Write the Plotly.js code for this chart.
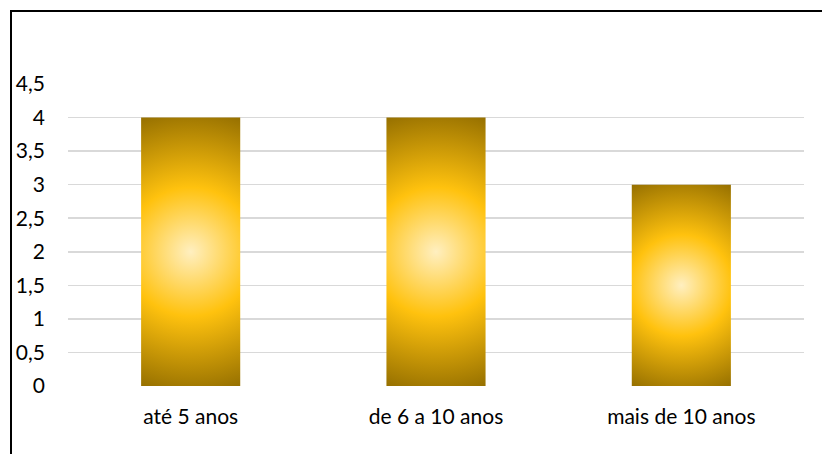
<!DOCTYPE html>
<html>
<head>
<meta charset="utf-8">
<script src="https://cdn.plot.ly/plotly-3.0.1.min.js"></script>
<style>
  html, body { margin: 0; padding: 0; background: #fff; }
  #wrap { position: relative; width: 822px; height: 454px; overflow: hidden; }
  #chart { position: absolute; left: 0; top: 0; width: 822px; height: 454px; }
  #frame { position: absolute; left: 10px; top: 10px; width: 830px; height: 460px;
           border-left: 2.5px solid #000; border-top: 2.5px solid #000; pointer-events: none; }
</style>
</head>
<body>
<div id="wrap">
  <div id="chart"></div>
  <div id="frame"></div>
</div>
<script>
const categories = ["até 5 anos", "de 6 a 10 anos", "mais de 10 anos"];
const values = [4, 4, 3];
const yTickVals = [0, 0.5, 1, 1.5, 2, 2.5, 3, 3.5, 4, 4.5];
const yTickText = ["0", "0,5", "1", "1,5", "2", "2,5", "3", "3,5", "4", "4,5"];

const font = { family: "Lato, 'Open Sans', sans-serif", size: 21, color: "#000" };

const data = [{
  type: "bar",
  x: categories,
  y: values,
  marker: { color: "#FFC000", line: { width: 0 } },
  hoverinfo: "none"
}];

const layout = {
  width: 822, height: 454,
  margin: { l: 68, r: 18, t: 83.5, b: 68, pad: 0 },
  paper_bgcolor: "#fff", plot_bgcolor: "#fff",
  font: font,
  showlegend: false,
  bargap: 0.596,
  xaxis: {
    type: "category",
    showgrid: false, showline: false, zeroline: false,
    ticks: "", ticklabelstandoff: 16,
    tickfont: font
  },
  yaxis: {
    range: [0, 4.5],
    tickvals: yTickVals, ticktext: yTickText,
    showgrid: true, gridcolor: "#D9D9D9", gridwidth: 1.5,
    zeroline: false, showline: false,
    ticks: "", ticklabelstandoff: 22,
    tickfont: font
  }
};

Plotly.newPlot("chart", data, layout, { staticPlot: true, displayModeBar: false }).then(function (gd) {
  const svg = gd.querySelector("svg.main-svg");
  const NS = "http://www.w3.org/2000/svg";
  let defs = svg.querySelector("defs");
  if (!defs) { defs = document.createElementNS(NS, "defs"); svg.insertBefore(defs, svg.firstChild); }
  const paths = gd.querySelectorAll(".barlayer .bars path");
  paths.forEach(function (p, i) {
    const bb = p.getBBox();
    const cx = bb.x + bb.width / 2, cy = bb.y + bb.height / 2;
    const r = Math.sqrt(bb.width * bb.width + bb.height * bb.height) / 2;
    const g = document.createElementNS(NS, "radialGradient");
    g.setAttribute("id", "bargrad" + i);
    g.setAttribute("gradientUnits", "userSpaceOnUse");
    g.setAttribute("cx", cx); g.setAttribute("cy", cy); g.setAttribute("r", r);
    g.setAttribute("fx", cx); g.setAttribute("fy", cy);
    [["0", "#FFEFC0"], ["0.45", "#FFC20E"], ["1", "#967000"]].forEach(function (s) {
      const st = document.createElementNS(NS, "stop");
      st.setAttribute("offset", s[0]); st.setAttribute("stop-color", s[1]);
      g.appendChild(st);
    });
    defs.appendChild(g);
    p.style.setProperty("fill", "url(#bargrad" + i + ")", "important");
  });
});
</script>
</body>
</html>
